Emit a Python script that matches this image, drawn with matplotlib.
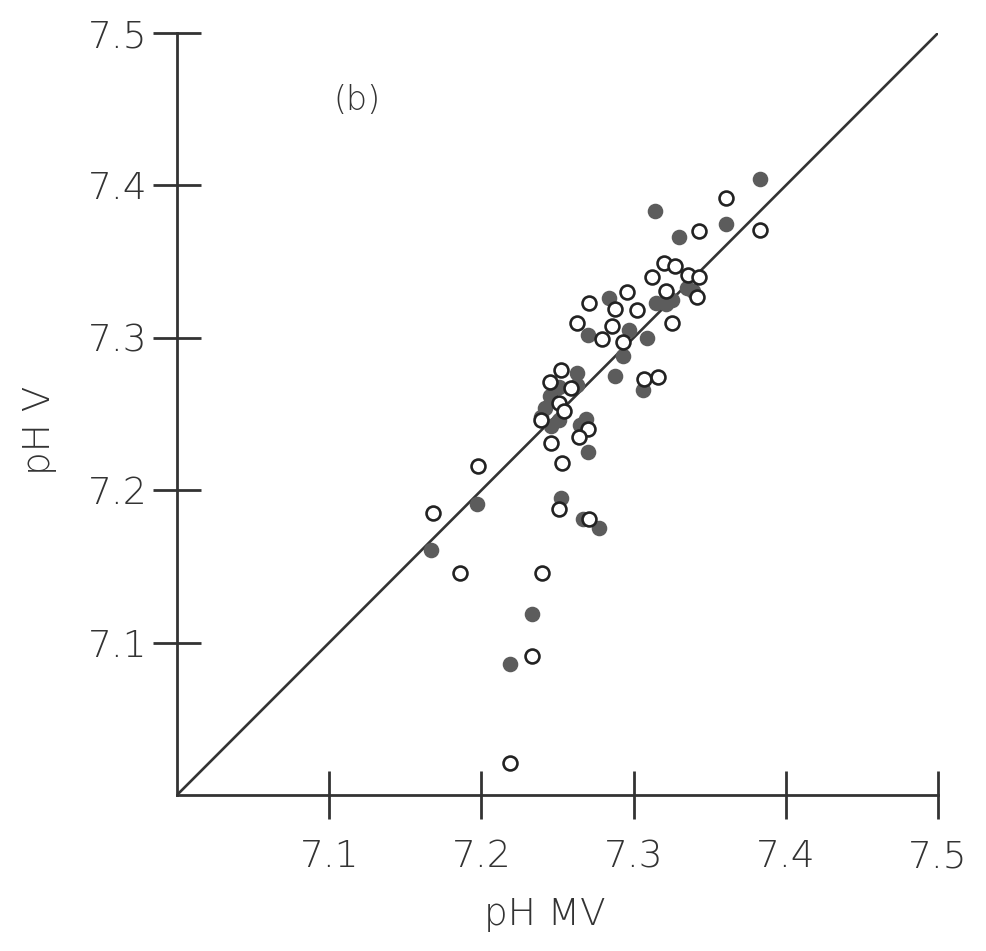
import matplotlib
matplotlib.use("Agg")
import matplotlib.pyplot as plt

# Open circles (pH MV, pH V)
open_x = [7.252, 7.245, 7.259, 7.251, 7.254, 7.239, 7.270, 7.264, 7.246, 7.253, 7.251, 7.271,
          7.198, 7.168, 7.186, 7.240, 7.233, 7.219,
          7.271, 7.288, 7.296, 7.302, 7.263, 7.286, 7.279, 7.293, 7.307, 7.316,
          7.321, 7.325, 7.336, 7.343, 7.342, 7.312, 7.320, 7.327,
          7.361, 7.383, 7.343]
open_y = [7.279, 7.271, 7.267, 7.257, 7.252, 7.246, 7.240, 7.235, 7.231, 7.218, 7.188, 7.181,
          7.216, 7.185, 7.146, 7.146, 7.091, 7.021,
          7.323, 7.319, 7.330, 7.318, 7.310, 7.308, 7.299, 7.297, 7.273, 7.274,
          7.331, 7.310, 7.341, 7.340, 7.327, 7.340, 7.349, 7.347,
          7.392, 7.371, 7.370]

# Filled circles (pH MV, pH V)
filled_x = [7.263, 7.251, 7.263, 7.245, 7.242, 7.239, 7.251, 7.246, 7.269, 7.265, 7.270,
            7.252, 7.267, 7.277,
            7.197, 7.167, 7.233, 7.219,
            7.284, 7.270, 7.309, 7.297, 7.293, 7.288, 7.306,
            7.315, 7.321, 7.325, 7.335, 7.339,
            7.383, 7.361, 7.330, 7.314]
filled_y = [7.277, 7.268, 7.269, 7.262, 7.254, 7.248, 7.246, 7.242, 7.247, 7.243, 7.225,
            7.195, 7.181, 7.175,
            7.191, 7.161, 7.119, 7.086,
            7.326, 7.302, 7.300, 7.305, 7.288, 7.275, 7.266,
            7.323, 7.322, 7.325, 7.333, 7.331,
            7.404, 7.375, 7.366, 7.383]

line_vals = [7.0, 7.5]
x_ticks = [7.1, 7.2, 7.3, 7.4, 7.5]
y_ticks = [7.1, 7.2, 7.3, 7.4, 7.5]
tick_labels = ["7.1", "7.2", "7.3", "7.4", "7.5"]

ink = "#333333"
fill = "#5c5c5c"

fig = plt.figure(figsize=(9.87, 9.51), dpi=100)
ax = fig.add_axes([0.1793, 0.164, 0.771, 0.8012])

ax.plot(line_vals, line_vals, color=ink, lw=1.9, zorder=1)
ax.plot(filled_x, filled_y, 'o', ms=10, mfc=fill, mec=fill, mew=1.2, zorder=2, clip_on=False)
ax.plot(open_x, open_y, 'o', ms=10, mfc='white', mec='#222222', mew=1.9, zorder=3, clip_on=False)

ax.set_xlim(7.0, 7.5)
ax.set_ylim(7.0, 7.5)
for s in ["top", "right"]:
    ax.spines[s].set_visible(False)
for s in ["left", "bottom"]:
    ax.spines[s].set_color(ink)
    ax.spines[s].set_linewidth(2.0)

ax.set_xticks(x_ticks)
ax.set_yticks(y_ticks)
ax.set_xticklabels(tick_labels)
ax.set_yticklabels(tick_labels)
ax.tick_params(axis='both', direction='inout', length=34, width=2.0, color=ink,
               labelsize=27, labelcolor=ink)
ax.tick_params(axis='x', pad=15)
ax.tick_params(axis='y', pad=4)
for lab in ax.get_xticklabels() + ax.get_yticklabels():
    lab.set_fontweight('light')

ax.text(7.118, 7.456, "(b)", fontsize=24, color=ink, ha='center', va='center', fontweight='light')
fig.text(0.552, 0.038, "pH MV", fontsize=27, color=ink, ha='center', va='center', fontweight='light')
fig.text(0.0405, 0.548, "pH V", fontsize=27, color=ink, ha='center', va='center',
         rotation=90, fontweight='light')

fig.savefig("out.png", dpi=100, facecolor='white')
